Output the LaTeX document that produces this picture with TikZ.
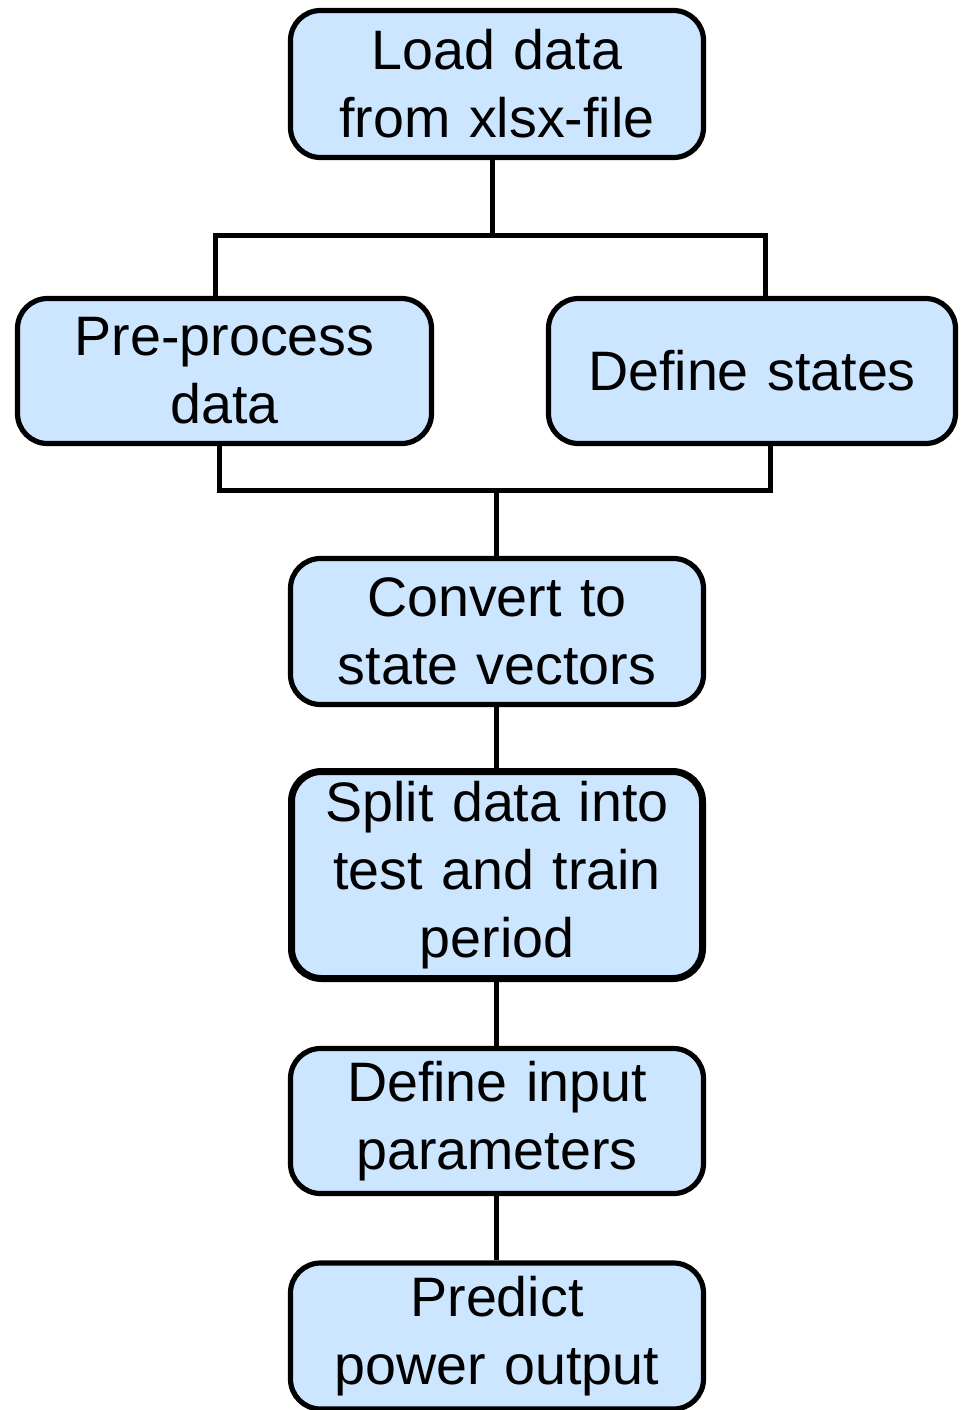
\documentclass[tikz,border=0pt]{standalone}
\usepackage{fontspec}
\setmainfont{Liberation Sans}
\usetikzlibrary{positioning}

\begin{document}
\begin{tikzpicture}[x=0.5pt, y=-0.5pt]
        % one unit is one pixel of the reference, y runs downwards
        \tikzstyle{stepbox}=[draw, line width=2.6pt, fill=boxblue, rounded corners=15pt,
                inner sep=0pt, align=center, text width=200pt,
                font=\fontsize{27.8}{34}\selectfont]
        \tikzstyle{link}=[line width=2.5pt]
        \definecolor{boxblue}{HTML}{CCE6FF}

        \useasboundingbox (0,0) rectangle (960,1410);

        \node[stepbox, minimum width=206.5pt, minimum height=73.5pt] (load) at (497,84) {Load data\\from xlsx-file};
        \node[stepbox, minimum width=207pt, minimum height=72.5pt] (prep) at (224.5,371) {Pre-process\\data};
        \node[stepbox, minimum width=203.5pt, minimum height=72.5pt] (states) at (752,371) {Define states};
        \node[stepbox, minimum width=206.5pt, minimum height=73pt] (conv) at (497,631.5) {Convert to\\state vectors};
        \node[stepbox, line width=3.5pt, minimum width=205.5pt, minimum height=103.5pt] (split) at (497,875) {Split data into\\test and train\\period};
        \node[stepbox, minimum width=206.5pt, minimum height=72.5pt] (input) at (497,1121) {Define input\\parameters};
        \node[stepbox, minimum width=206.5pt, minimum height=73pt] (predict) at (497,1336) {Predict\\power output};

        \coordinate (fork) at (492,235);
        \coordinate (join) at (496,490);

        \draw[link] (load.south -| fork) -- (fork);
        \draw[link] ([xshift=-4.5pt]prep.north) |- (fork) -| ([xshift=6.5pt]states.north);
        \draw[link] ([xshift=-2.5pt]prep.south) |- (join) -| ([xshift=9pt]states.south);
        \draw[link] (join) -- (conv.north -| join);
        \draw[link] (conv.south -| join) -- (split.north -| join);
        \draw[link] (split.south -| join) -- (input.north -| join);
        \draw[link] (input.south -| join) -- (predict.north -| join);
      \end{tikzpicture}
\end{document}
